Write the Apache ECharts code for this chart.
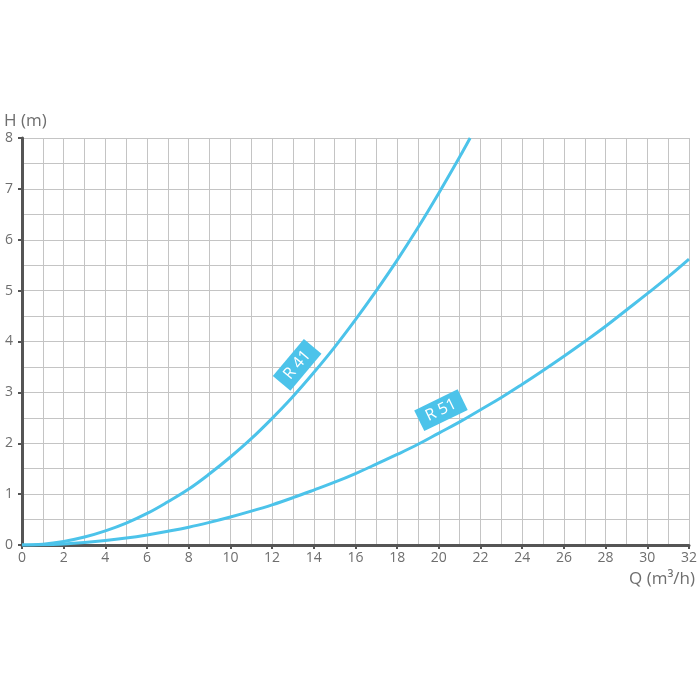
<!DOCTYPE html>
<html><head><meta charset="utf-8">
<script src="https://cdn.jsdelivr.net/npm/echarts@6/dist/echarts.min.js"></script>
<style>html,body{margin:0;padding:0;background:#fff}#c{width:700px;height:700px}</style>
</head><body><div id="c"></div>
<script>
const r41Q = [0,1,2,3,4,5,6,7,8,9,10,11,12,13,14,15,16,17,18,19,20,21,21.5];
const r41H = [0,0.017,0.07,0.156,0.277,0.43,0.62,0.85,1.1,1.4,1.73,2.09,2.49,2.92,3.39,3.89,4.43,5.0,5.6,6.24,6.92,7.63,8.0];
const r51Q = [0,1,2,3,4,5,6,7,8,9,10,11,12,13,14,15,16,17,18,19,20,21,22,23,24,25,26,27,28,29,30,31,32];
const r51H = [0,0.005,0.022,0.05,0.088,0.137,0.198,0.27,0.35,0.445,0.55,0.665,0.79,0.93,1.08,1.235,1.405,1.59,1.78,1.98,2.2,2.42,2.66,2.9,3.16,3.43,3.71,4.0,4.3,4.62,4.94,5.27,5.62];
const seriesNames = ['R 41', 'R 51'];
const labelPos = [[13.2, 3.54], [20.1, 2.65]];
const labelRot = [50, 26];
const xTicks = [0,2,4,6,8,10,12,14,16,18,20,22,24,26,28,30,32];
const yTicks = [0,1,2,3,4,5,6,7,8];

const lineColor = '#4cc3ea';
const txt = '#6e6e6e';
const font = 'Open Sans';
const chart = echarts.init(document.getElementById('c'), null, {renderer:'canvas'});
function mk(i, q, h) {
  return {
    type: 'line', name: seriesNames[i], smooth: 0.4, symbol: 'none',
    data: q.map((v, k) => [v, h[k]]),
    lineStyle: {color: lineColor, width: 3}, itemStyle:{color: lineColor},
    markPoint: {
      symbol: 'rect', symbolSize: 1, itemStyle: {color: 'rgba(0,0,0,0)'},
      data: [{coord: labelPos[i], value: seriesNames[i]}],
      label: {show: true, position: 'inside', formatter: seriesNames[i], rotate: labelRot[i],
        color: '#fff', backgroundColor: lineColor, padding: [4, 8, 3, 8],
        fontFamily: font, fontSize: 16}
    }
  };
}
chart.setOption({
  animation: false,
  grid: {left: 22, right: 11, top: 138, bottom: 155},
  xAxis: {
    type: 'value', min: 0, max: 32, interval: 2,
    name: 'Q (m³/h)', nameLocation: 'end',
    nameTextStyle: {color: txt, fontFamily: font, fontSize: 17, align: 'right', verticalAlign: 'top', padding: [26, 0, 0, 0]},
    nameGap: 6,
    axisLine: {show: true, lineStyle: {color: '#555', width: 3}},
    axisTick: {show: true, length: 4, lineStyle: {color: '#555', width: 2}},
    axisLabel: {color: txt, fontFamily: font, fontSize: 14, margin: 6,
      formatter: v => xTicks.includes(v) ? String(v) : ''},
    splitLine: {show: true, lineStyle: {color: '#c4c4c4', width: 1}},
    minorTick: {show: false, splitNumber: 2},
    minorSplitLine: {show: true, lineStyle: {color: '#c4c4c4', width: 1}}
  },
  yAxis: {
    type: 'value', min: 0, max: 8, interval: 1,
    name: 'H (m)', nameLocation: 'end',
    nameTextStyle: {color: txt, fontFamily: font, fontSize: 17, align: 'left', padding: [0, 0, 0, -18]},
    nameGap: 8,
    axisLine: {show: true, lineStyle: {color: '#555', width: 3}},
    axisTick: {show: true, length: 4, lineStyle: {color: '#555', width: 2}},
    axisLabel: {color: txt, fontFamily: font, fontSize: 14, margin: 9,
      formatter: v => yTicks.includes(v) ? String(v) : ''},
    splitLine: {show: true, lineStyle: {color: '#c4c4c4', width: 1}},
    minorTick: {show: false, splitNumber: 2},
    minorSplitLine: {show: true, lineStyle: {color: '#c4c4c4', width: 1}}
  },
  series: [mk(0, r41Q, r41H), mk(1, r51Q, r51H)]
});
</script></body></html>
